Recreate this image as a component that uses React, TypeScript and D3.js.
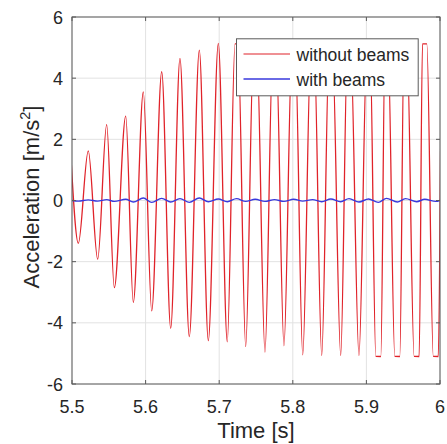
import React from "react";
import * as d3 from "d3";

// ---- data ----
const xTicks = [5.5, 5.6, 5.7, 5.8, 5.9, 6];
const xTickLabels = ["5.5", "5.6", "5.7", "5.8", "5.9", "6"];
const yTicks = [-6, -4, -2, 0, 2, 4, 6];
const yTickLabels = ["-6", "-4", "-2", "0", "2", "4", "6"];

const seriesNames = ["without beams", "with beams"];

// "without beams": key points (extrema / saturation edges) of the signal
const redTimes = [
  5.4986, 5.5086, 5.5221, 5.5349, 5.5471, 5.5575, 5.573, 5.5833, 5.5969, 5.6083,
  5.6219, 5.6341, 5.6467, 5.6594, 5.673, 5.6852, 5.6988, 5.711,
  5.7215, 5.7255, 5.736,
  5.7469, 5.7509, 5.7622,
  5.7731, 5.7771, 5.788,
  5.7991, 5.8031, 5.8135,
  5.8248, 5.8288, 5.8393,
  5.8496, 5.8536, 5.8651,
  5.8744, 5.8784, 5.8899,
  5.9009, 5.9049, 5.9128, 5.9196,
  5.9253, 5.9293, 5.9386, 5.9454,
  5.9511, 5.9551, 5.9649, 5.9717,
  5.9762, 5.9821, 5.9909, 5.9977,
  6.0028, 6.0068,
];
const redValues = [
  1.4, -1.4, 1.62, -1.92, 2.48, -2.85, 2.76, -3.33, 3.55, -3.61,
  4.21, -4.18, 4.65, -4.45, 4.92, -4.58, 5.14, -4.62,
  5.12, 5.12, -4.78,
  5.12, 5.12, -4.96,
  5.12, 5.12, -4.75,
  5.12, 5.12, -5.05,
  5.12, 5.12, -5.07,
  5.12, 5.12, -5.07,
  5.12, 5.12, -5.07,
  5.12, 5.12, -5.1, -5.1,
  5.12, 5.12, -5.1, -5.1,
  5.12, 5.12, -5.1, -5.1,
  5.12, 5.12, -5.1, -5.1,
  5.12, 5.12,
];

// "with beams": small residual oscillation around zero
const blueTimes = [
  5.5, 5.5086, 5.5221, 5.5349, 5.5471, 5.5575, 5.573, 5.5833, 5.5969, 5.6083,
  5.6219, 5.6341, 5.6467, 5.6594, 5.673, 5.6852, 5.6988, 5.711, 5.7235, 5.736,
  5.7489, 5.7622, 5.7751, 5.788, 5.8011, 5.8135, 5.8268, 5.8393, 5.8516, 5.8651,
  5.8764, 5.8899, 5.9029, 5.9162, 5.9273, 5.942, 5.9531, 5.9683, 5.9792, 5.9942, 6.0,
];
const blueValues = [
  0.0, -0.02, 0.02, -0.02, 0.03, -0.03, 0.04, -0.05, 0.08, -0.06,
  0.07, -0.05, 0.06, -0.06, 0.08, -0.04, 0.05, -0.04, 0.06, -0.03,
  0.04, -0.03, 0.03, -0.03, 0.04, -0.02, 0.03, -0.04, 0.05, -0.04,
  0.06, -0.05, 0.05, -0.06, 0.07, -0.05, 0.06, -0.04, 0.04, -0.03, 0.0,
];

// ---- layout ----
const W = 447;
const H = 444;
const M = { left: 72, right: 440, top: 17, bottom: 384 };
const FONT = "'Liberation Sans', Arial, Helvetica, sans-serif";
const TEXT = "#262626";
const AXIS = "#5a5a5a";
const GRID = "#e2e2e2";
const RED = "#e0232a";
const BLUE = "#3838dc";

export default function App() {
  const x = d3.scaleLinear().domain([5.5, 6]).range([M.left, M.right]);
  const y = d3.scaleLinear().domain([-6, 6]).range([M.bottom, M.top]);

  const redData = redTimes.map((t, i) => [t, redValues[i]] as [number, number]);
  const blueData = blueTimes.map((t, i) => [t, blueValues[i]] as [number, number]);

  const line = d3
    .line<[number, number]>()
    .x((d) => x(d[0]))
    .y((d) => y(d[1]))
    .curve(d3.curveMonotoneX);

  const tickLen = 4;
  const pw = M.right - M.left;
  const ph = M.bottom - M.top;

  return (
    <svg
      width={W}
      height={H}
      style={{ position: "fixed", left: 0, top: 0, background: "#fff" }}
      fontFamily={FONT}
    >
      <rect x={0} y={0} width={W} height={H} fill="#fff" />
      <defs>
        <clipPath id="plotclip">
          <rect x={M.left} y={M.top} width={pw} height={ph} />
        </clipPath>
      </defs>

      {/* grid */}
      {xTicks.map((t) => (
        <line
          key={"gx" + t}
          x1={x(t)}
          x2={x(t)}
          y1={M.top}
          y2={M.bottom}
          stroke={GRID}
          strokeWidth={1}
        />
      ))}
      {yTicks.map((t) => (
        <line
          key={"gy" + t}
          x1={M.left}
          x2={M.right}
          y1={y(t)}
          y2={y(t)}
          stroke={GRID}
          strokeWidth={1}
        />
      ))}

      {/* series */}
      <g clipPath="url(#plotclip)">
        <path d={line(redData) || ""} fill="none" stroke={RED} strokeWidth={1.3} />
        <path d={line(blueData) || ""} fill="none" stroke={BLUE} strokeWidth={1.4} />
      </g>

      {/* box */}
      <rect
        x={M.left}
        y={M.top}
        width={pw}
        height={ph}
        fill="none"
        stroke={AXIS}
        strokeWidth={1}
      />

      {/* ticks */}
      {xTicks.map((t) => (
        <g key={"tx" + t}>
          <line x1={x(t)} x2={x(t)} y1={M.bottom} y2={M.bottom - tickLen} stroke={AXIS} />
          <line x1={x(t)} x2={x(t)} y1={M.top} y2={M.top + tickLen} stroke={AXIS} />
        </g>
      ))}
      {yTicks.map((t) => (
        <g key={"ty" + t}>
          <line x1={M.left} x2={M.left + tickLen} y1={y(t)} y2={y(t)} stroke={AXIS} />
          <line x1={M.right} x2={M.right - tickLen} y1={y(t)} y2={y(t)} stroke={AXIS} />
        </g>
      ))}

      {/* tick labels */}
      {xTicks.map((t, i) => (
        <text
          key={"lx" + t}
          x={x(t)}
          y={M.bottom + 28.5}
          textAnchor="middle"
          fontSize={18}
          fill={TEXT}
        >
          {xTickLabels[i]}
        </text>
      ))}
      {yTicks.map((t, i) => (
        <text
          key={"ly" + t}
          x={M.left - 9}
          y={y(t) + 6.5}
          textAnchor="end"
          fontSize={18}
          fill={TEXT}
        >
          {yTickLabels[i]}
        </text>
      ))}

      {/* axis titles */}
      <text
        x={(M.left + M.right) / 2}
        y={438}
        textAnchor="middle"
        fontSize={22}
        fill={TEXT}
      >
        Time [s]
      </text>
      <text
        transform={`translate(38.5, 197) rotate(-90)`}
        textAnchor="middle"
        fontSize={22}
        fill={TEXT}
      >
        Acceleration [m/s
        <tspan fontSize={14.5} dy={-9}>
          2
        </tspan>
        <tspan dy={9}>]</tspan>
      </text>

      {/* legend */}
      <rect
        x={236.5}
        y={38.8}
        width={181.7}
        height={57}
        fill="#fff"
        stroke={AXIS}
        strokeWidth={1}
      />
      <line x1={243.5} x2={290} y1={54} y2={54} stroke={RED} strokeWidth={1.2} />
      <line x1={243.5} x2={290} y1={79} y2={79} stroke={BLUE} strokeWidth={1.4} />
      <text x={296.5} y={60.5} fontSize={17.5} fill={TEXT}>
        {seriesNames[0]}
      </text>
      <text x={296.5} y={85.5} fontSize={17.5} fill={TEXT}>
        {seriesNames[1]}
      </text>
    </svg>
  );
}
